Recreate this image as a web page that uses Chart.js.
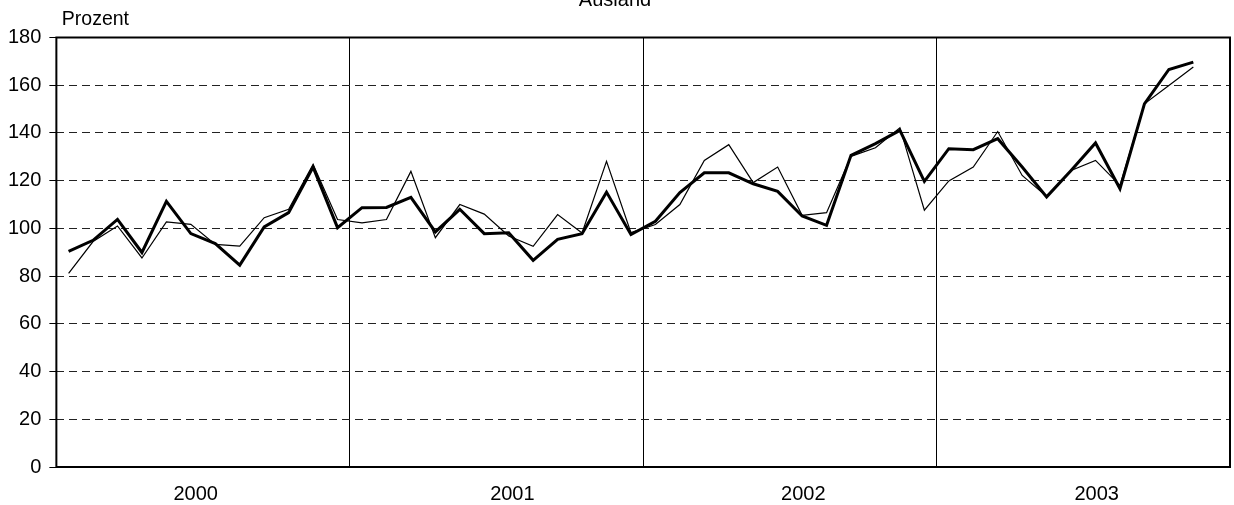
<!DOCTYPE html>
<html>
<head>
<meta charset="utf-8">
<script src="https://cdn.jsdelivr.net/npm/chart.js@4.4.1/dist/chart.umd.min.js"></script>
<style>
    html, body { margin: 0; padding: 0; background: #fff; overflow: hidden; }
    #wrap { position: absolute; left: 0; top: -10px; width: 1234px; height: 531px; }
</style>
</head>
<body>
<div id="wrap"><canvas id="myChart"></canvas></div>
<script>
    // Ausland, Monatswerte 2000-2003 (Prozent)
    const years = ['2000', '2001', '2002', '2003'];
    const months = ['Jan', 'Feb', 'Mär', 'Apr', 'Mai', 'Jun', 'Jul', 'Aug', 'Sep', 'Okt', 'Nov', 'Dez'];

    // duenne Linie
    const thinValues = [
        81.1, 94.5, 101.0, 87.6, 102.7, 101.7, 93.3, 92.6, 104.5, 108.0, 126.8, 103.7,
        102.3, 103.7, 123.9, 96.1, 110.0, 106.0, 96.8, 92.5, 105.8, 98.1, 128.1, 98.2,
        101.6, 110.0, 128.5, 135.1, 119.2, 125.7, 105.5, 106.6, 130.2, 133.8, 142.2, 107.6,
        119.9, 125.7, 140.6, 122.2, 113.4, 124.3, 128.5, 118.0, 152.2, 159.9, 167.6
    ];
    // dicke Linie
    const thickValues = [
        90.4, 95.0, 103.8, 89.9, 111.3, 97.8, 93.6, 84.6, 100.6, 106.6, 125.7, 100.3,
        108.7, 108.8, 113.0, 98.5, 108.0, 97.8, 98.2, 86.6, 95.4, 97.8, 115.2, 97.4,
        103.0, 115.0, 123.3, 123.3, 118.7, 115.5, 105.2, 101.3, 130.6, 135.5, 141.1, 119.7,
        133.4, 133.0, 137.6, 125.7, 113.2, 124.3, 135.8, 116.6, 152.2, 166.6, 169.7
    ];

    const yTicks = [0, 20, 40, 60, 80, 100, 120, 140, 160, 180];

    // where the year captions sit (in month units)
    const yearLabelPos = [5.7, 18.65, 30.55, 42.55];

    const labels = [];
    years.forEach(y => months.forEach(m => labels.push(m + ' ' + y)));
    const nMonths = labels.length;

    const toPoints = arr => arr.map((v, i) => ({ x: i + 0.5, y: v }));

    Chart.defaults.font.family = '"Liberation Sans", Arial, sans-serif';
    Chart.defaults.font.size = 20;
    Chart.defaults.color = '#000';

    // solid frame round the plot area
    const frame = {
        id: 'frame',
        afterDraw(chart) {
            const { ctx, chartArea: a } = chart;
            ctx.save();
            ctx.strokeStyle = '#000';
            ctx.lineWidth = 2;
            ctx.strokeRect(a.left, a.top, a.right - a.left, a.bottom - a.top);
            ctx.restore();
        }
    };

    const ctx = document.getElementById('myChart').getContext('2d');
    const myChart = new Chart(ctx, {
        type: 'line',
        data: {
            datasets: [{
                label: 'dick',
                data: toPoints(thickValues),
                borderColor: '#000',
                borderWidth: 3,
                pointRadius: 0,
                tension: 0
            }, {
                label: 'dünn',
                data: toPoints(thinValues),
                borderColor: '#000',
                borderWidth: 1.2,
                pointRadius: 0,
                tension: 0
            }]
        },
        options: {
            responsive: true,
            maintainAspectRatio: false,
            animation: false,
            layout: {
                padding: { left: 0, right: 4, top: 0, bottom: 0 }
            },
            plugins: {
                legend: { display: false },
                tooltip: { enabled: false },
                title: {
                    display: true,
                    text: 'Ausland',
                    font: { size: 20, weight: 'normal', lineHeight: 1 },
                    padding: { top: 0, bottom: 0 }
                },
                subtitle: {
                    display: true,
                    text: '\u00a0Prozent',
                    align: 'start',
                    fullSize: false,
                    color: '#000',
                    font: { size: 19.5, lineHeight: 1 },
                    padding: { top: 0, bottom: 8 }
                }
            },
            scales: {
                x: {
                    type: 'linear',
                    min: 0,
                    max: nMonths,
                    afterBuildTicks: axis => {
                        axis.ticks = years.slice(1).map((y, i) => ({ value: (i + 1) * 12 }));
                    },
                    ticks: { display: false },
                    grid: { color: '#000', lineWidth: 1, drawTicks: false },
                    border: { display: false }
                },
                years: {
                    type: 'linear',
                    position: 'bottom',
                    min: 0,
                    max: nMonths,
                    afterBuildTicks: axis => {
                        axis.ticks = yearLabelPos.map(v => ({ value: v }));
                    },
                    ticks: {
                        autoSkip: false,
                        maxRotation: 0,
                        padding: 15,
                        callback: (value, index) => years[index]
                    },
                    grid: { display: false, drawTicks: false },
                    border: { display: false }
                },
                y: {
                    min: 0,
                    max: 180,
                    afterBuildTicks: axis => {
                        axis.ticks = yTicks.map(v => ({ value: v }));
                    },
                    ticks: { padding: 8 },
                    grid: {
                        color: '#222',
                        lineWidth: 1,
                        tickLength: 7,
                        tickColor: '#000'
                    },
                    border: { display: false, dash: [8, 5] }
                }
            }
        },
        plugins: [frame]
    });
</script>
</body>
</html>
